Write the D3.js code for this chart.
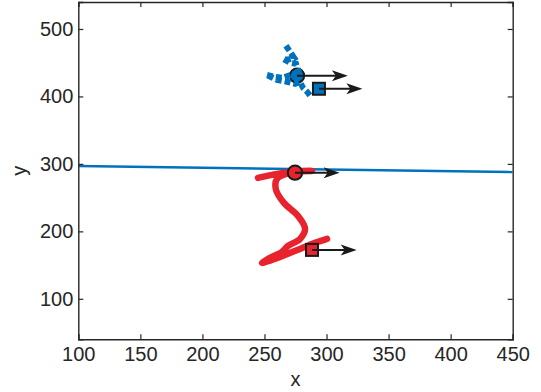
<!DOCTYPE html>
<html>
<head>
<meta charset="utf-8">
<script src="https://d3js.org/d3.v7.min.js"></script>
<style>
  body { margin: 0; background: #fff; }
  text { font-family: "Liberation Sans", Arial, sans-serif; }
</style>
</head>
<body>
<div id="chart"></div>
<script>
// values
const xTicks = [100, 150, 200, 250, 300, 350, 400, 450];
const yTicks = [100, 200, 300, 400, 500];

// straight blue line (x, y)
const blueLine = [[100, 297], [450, 288]];

// red trajectory (solid)
const redPath = [
  [244.8, 279.3], [256.1, 283.8], [270.6, 288.2], [288.3, 289.7],
  [270.6, 286.7], [260.1, 277.8], [259.3, 261.5], [265.7, 242.2],
  [277.0, 222.9], [282.7, 203.7], [278.6, 188.8], [268.9, 178.4],
  [264.1, 169.5], [254.4, 160.6], [248.0, 153.2], [262.5, 162.1],
  [278.6, 174.0], [290.7, 182.9], [300.4, 188.8]
];

// blue trajectory (dashed)
const bluePath = [
  [267.3, 475.2], [270.6, 466.3], [273.8, 457.4], [269.0, 454.5],
  [264.9, 455.9], [270.6, 450.0], [275.4, 448.5], [277.0, 439.6],
  [278.6, 430.7], [273.8, 433.7], [264.9, 427.7], [257.7, 429.2],
  [251.2, 432.2], [260.1, 424.7], [268.1, 421.8], [274.6, 418.8],
  [278.6, 421.8], [281.0, 412.9], [284.3, 407.0], [287.5, 399.6]
];

// markers: x, y, arrow length (x units), colour, shape
const markerX = [274.6, 288.3, 276.2, 293.9];
const markerY = [287.0, 172.5, 430.7, 411.4];
const arrowU = [36, 36, 41, 35];
const markerColor = ["#e8232d", "#e8232d", "#0072bd", "#0072bd"];
const markerShape = ["circle", "square", "circle", "square"];

class TrajectoryPlot {
  constructor(_config) {
    this.config = {
      parentElement: _config.parentElement,
      width: 541,
      height: 392,
      margin: { top: 2, left: 78.3, right: 28.3, bottom: 52.7 }
    };
    this.initVis();
  }

  initVis() {
    const vis = this;
    const m = vis.config.margin;
    vis.innerW = vis.config.width - m.left - m.right;
    vis.innerH = vis.config.height - m.top - m.bottom;

    vis.svgRoot = d3.select(vis.config.parentElement)
      .append("svg")
      .attr("width", vis.config.width)
      .attr("height", vis.config.height);

    vis.svg = vis.svgRoot.append("g")
      .attr("transform", `translate(${m.left},${m.top})`);

    vis.xScale = d3.scaleLinear().domain([100, 450]).range([0, vis.innerW]);
    vis.yScale = d3.scaleLinear().domain([40, 540]).range([vis.innerH, 0]);

    // clip for data marks
    vis.svgRoot.append("defs").append("clipPath").attr("id", "clip")
      .append("rect").attr("width", vis.innerW).attr("height", vis.innerH);
    vis.plot = vis.svg.append("g").attr("clip-path", "url(#clip)");

    vis.renderLines();
    vis.renderMarkers();
    vis.renderAxes();
  }

  renderLines() {
    const vis = this;
    const line = d3.line()
      .x(d => vis.xScale(d[0]))
      .y(d => vis.yScale(d[1]));

    vis.plot.append("path")
      .datum(blueLine)
      .attr("d", line)
      .attr("fill", "none")
      .attr("stroke", "#0072bd")
      .attr("stroke-width", 2.5);

    vis.plot.append("path")
      .datum(redPath)
      .attr("d", line.curve(d3.curveCatmullRom.alpha(0.5)))
      .attr("fill", "none")
      .attr("stroke", "#e8232d")
      .attr("stroke-width", 6.5)
      .attr("stroke-linejoin", "round")
      .attr("stroke-linecap", "round");
  }

  renderMarkers() {
    const vis = this;
    const data = markerX.map((x, i) => ({
      x, y: markerY[i], u: arrowU[i], color: markerColor[i], shape: markerShape[i]
    }));

    const line = d3.line()
      .x(d => vis.xScale(d[0]))
      .y(d => vis.yScale(d[1]));

    data.forEach((d, i) => {
      const cx = vis.xScale(d.x), cy = vis.yScale(d.y);
      if (d.shape === "circle") {
        vis.plot.append("circle")
          .attr("cx", cx).attr("cy", cy).attr("r", 7.2)
          .attr("fill", d.color)
          .attr("stroke", "#1a1a1a").attr("stroke-width", 2);
      } else {
        vis.plot.append("rect")
          .attr("x", cx - 6).attr("y", cy - 6)
          .attr("width", 12).attr("height", 12)
          .attr("fill", d.color)
          .attr("stroke", "#1a1a1a").attr("stroke-width", 2);
      }
      // blue trajectory goes over the blue circle
      if (i === 2) {
        vis.plot.append("path")
          .datum(bluePath)
          .attr("d", line)
          .attr("fill", "none")
          .attr("stroke", "#0072bd")
          .attr("stroke-width", 6)
          .attr("stroke-dasharray", "6,3");
      }
    });

    // arrows
    data.forEach(d => {
      const x0 = vis.xScale(d.x), y0 = vis.yScale(d.y);
      const x1 = vis.xScale(d.x + d.u);
      vis.plot.append("line")
        .attr("x1", x0).attr("y1", y0)
        .attr("x2", x1 - 8).attr("y2", y0)
        .attr("stroke", "#1a1a1a").attr("stroke-width", 2);
      vis.plot.append("path")
        .attr("d", `M${x1},${y0} L${x1 - 16},${y0 - 5.5} L${x1 - 12},${y0} L${x1 - 16},${y0 + 5.5} Z`)
        .attr("fill", "#1a1a1a");
    });
  }

  renderAxes() {
    const vis = this;
    const axisColor = "#262626";

    const xAxis = vis.svg.append("g")
      .attr("transform", `translate(0,${vis.innerH})`)
      .call(d3.axisBottom(vis.xScale).tickValues(xTicks).tickSize(-5).tickPadding(8));
    const yAxis = vis.svg.append("g")
      .call(d3.axisLeft(vis.yScale).tickValues(yTicks).tickSize(-5).tickPadding(5));
    const xTop = vis.svg.append("g")
      .call(d3.axisTop(vis.xScale).tickValues(xTicks).tickSize(-5).tickFormat(""));
    const yRight = vis.svg.append("g")
      .attr("transform", `translate(${vis.innerW},0)`)
      .call(d3.axisRight(vis.yScale).tickValues(yTicks).tickSize(-5).tickFormat(""));

    [xAxis, yAxis, xTop, yRight].forEach(a => {
      a.select(".domain").attr("stroke", axisColor).attr("stroke-width", 1.4);
      a.selectAll(".tick line").attr("stroke", axisColor).attr("stroke-width", 1.2);
      a.selectAll(".tick text")
        .attr("fill", axisColor)
        .style("font-size", "20px")
        .style("font-family", "'Liberation Sans', Arial, sans-serif");
    });

    vis.svg.append("text")
      .attr("x", vis.innerW / 2)
      .attr("y", vis.innerH + 47)
      .attr("text-anchor", "middle")
      .attr("fill", axisColor)
      .style("font-size", "20px")
      .text("x");

    vis.svg.append("text")
      .attr("transform", `translate(${-52},${vis.innerH / 2}) rotate(-90)`)
      .attr("text-anchor", "middle")
      .attr("fill", axisColor)
      .style("font-size", "20px")
      .text("y");
  }
}

new TrajectoryPlot({ parentElement: "#chart" });
</script>
</body>
</html>
